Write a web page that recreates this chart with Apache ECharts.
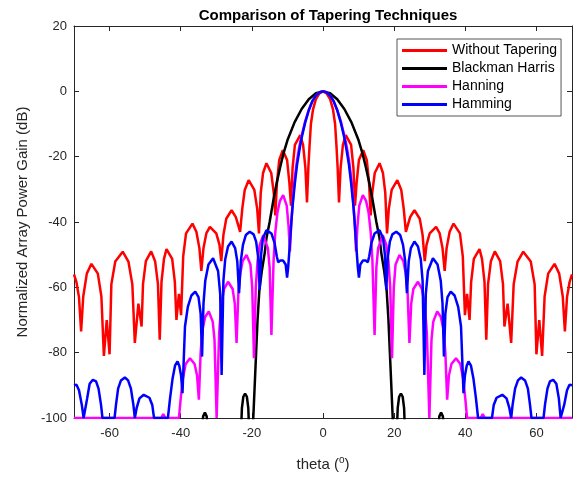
<!DOCTYPE html>
<html>
<head>
<meta charset="utf-8">
<script src="https://cdn.jsdelivr.net/npm/echarts@6/dist/echarts.min.js"></script>
<style>html,body{margin:0;padding:0;background:#fff}#container{width:581px;height:477px}</style>
</head>
<body>
<div id="container"></div>
<script>
// pattern is symmetric: values read for theta >= 0, mirrored for theta < 0
var seriesNames = ['Without Tapering', 'Blackman Harris', 'Hanning', 'Hamming'];
var thetaTicks = [-60, -40, -20, 0, 20, 40, 60];

var uniformHalf = [
  [0,0],[1,-0.6],[2,-2.4],[2.8,-5.5],[3.4,-10],[3.8,-17],[4.1,-23],[4.5,-34],
  [4.95,-23.4],[5.6,-16.4],[6.4,-13.4],[7.9,-16.4],[8.55,-23.4],[9.0,-35],
  [9.45,-28],[10.1,-21],[11.3,-18],[12.3,-21],[12.95,-28],[13.4,-38],
  [13.85,-31],[14.55,-25],[15.9,-22],[16.85,-25],[17.5,-31],[18.0,-43.5],
  [18.5,-36],[19.3,-30.2],[20.9,-27.2],[22.0,-30.2],[22.7,-36],[23.3,-43],
  [23.7,-41.5],[24.5,-38.5],[25.7,-36.4],[27.2,-39],[28.0,-44],[28.6,-52],
  [29.1,-47],[30.0,-43.5],[31.8,-41.5],[32.8,-43.5],[33.6,-48],[34.2,-55],
  [34.75,-48],[35.6,-43],[36.7,-40.5],[38.5,-43.5],[39.3,-50.5],[39.9,-68.5],[40.5,-62],[41.2,-70],
  [41.65,-58.3],[42.4,-51.3],[44.0,-48.3],[44.7,-51.3],[45.4,-58.3],[45.9,-76],
  [46.4,-59],[47.2,-52],[48.3,-49],[49.8,-52],[50.6,-59],[51.0,-72],[51.9,-65],[52.9,-77],
  [53.6,-59.1],[54.7,-52.1],[56.3,-49.1],[58.4,-52.1],[59.5,-59.1],[60.0,-80.5],[60.8,-70],[61.6,-81],
  [62.3,-62.8],[63.3,-55.8],[65.1,-52.8],[66.4,-55.8],[67.4,-62.8],[68.0,-73.5],
  [68.6,-63],[69.3,-58.5],[70,-56]
];

// -106 = below the axis floor (hidden)
var blackmanHalf = [
  [0,0],[2,-0.6],[4,-2.4],[6,-5.4],[8,-9.5],[10,-15],[11.1,-19],[12,-23],[13,-28],
  [13.9,-33],[15,-40],[15.9,-45],[16.4,-49.6],[17.2,-55],[17.9,-61],[18.4,-70],
  [18.8,-80],[19.2,-90],[19.6,-100],[20.0,-106],[20.7,-106],[21.0,-97],[21.4,-93.5],
  [21.9,-92.5],[22.4,-93.5],[22.8,-97],[23.1,-106],[32.3,-106],[32.7,-99.5],
  [33.2,-98.3],[33.7,-99.5],[34.1,-106],[70,-106]
];

var hanningHalf = [
  [0,0],[1,-0.3],[2,-1.3],[3,-3.1],[4,-5.7],[5,-9.2],[6,-13.5],[6.6,-16.5],[7.3,-21],
  [8.0,-27],[8.6,-35],[9.0,-42],[9.3,-49],[9.7,-41],[10.2,-35],[11.2,-31.8],[12.1,-33.5],
  [12.8,-37],[13.4,-43],[13.9,-52],[14.5,-74.6],[15.0,-54],[15.5,-48],[16.8,-44],
  [17.8,-47],[18.4,-52],[18.9,-60],[19.4,-81.7],[19.9,-60],[20.4,-53],[21.5,-50.1],
  [22.6,-52],[23.3,-56],[23.8,-62],[24.3,-77],[24.8,-65],[25.4,-60.5],[26.7,-58.3],
  [27.8,-60.5],[28.6,-65],[29.2,-74],[29.9,-100],[30.5,-76],[31.0,-70.5],[32.1,-67.4],
  [33.1,-69],[33.9,-73],[34.4,-80],[34.9,-94.4],[35.4,-87],[36.1,-83.5],[37.4,-81.7],
  [38.6,-83.5],[39.4,-88],[40.0,-94],[40.5,-100],[44.3,-100],[44.9,-98.8],[45.5,-100],
  [70,-100]
];

var hammingHalf = [
  [0,0],[1,-0.3],[2,-1.3],[3,-3],[4,-5.8],[5,-9.5],[6,-14.2],[6.6,-17.8],[7.3,-22.5],
  [7.9,-28],[8.5,-34.5],[8.9,-40],[9.4,-48],[9.8,-54],[10.1,-57],
  [10.5,-53],[11.2,-51.8],[12.0,-51.8],[12.6,-52.3],[13.0,-50.5],[13.6,-46.5],[14.5,-43.5],
  [15.9,-42.5],[16.9,-45],[17.4,-50],[17.8,-60.8],[18.2,-51],[18.8,-46],[19.5,-43.8],
  [20.6,-43],[21.7,-44],[22.5,-47],[23.1,-52],[23.6,-61.8],[24.1,-52],[24.7,-48],
  [25.7,-46],[26.7,-47.5],[27.5,-51.5],[28.0,-58],[28.5,-86.8],[28.9,-62],[29.5,-55],
  [30.9,-51.1],[32.2,-53],[33.1,-58],[33.6,-65],[34.0,-81.2],[34.4,-68],[35.0,-63],
  [35.9,-61.3],[37.0,-62.5],[38.0,-66],[38.8,-72],[39.5,-92.4],[39.9,-87],[40.4,-84],
  [40.9,-82.7],[41.6,-84],[42.3,-88],[43.0,-94],[43.6,-100],[47.5,-100],[48.0,-96],
  [48.8,-93.8],[50.4,-92.9],[51.6,-94],[52.4,-97],[52.9,-100],[53.3,-96],[54.0,-91],
  [54.8,-88.5],[55.7,-87.6],[56.8,-88.5],[57.6,-91],[58.2,-96],[58.6,-100],[62.0,-100],
  [62.4,-96],[63.1,-91],[63.8,-88.8],[64.7,-88.3],[65.6,-89.5],[66.3,-94],[66.8,-100],
  [67.3,-100],[67.8,-96],[68.6,-91.5],[69.3,-89.8],[70,-90]
];

function mirror(half) {
  var left = half.slice(1).map(function (p) { return [-p[0], p[1]]; }).reverse();
  return left.concat(half);
}

var font = 'Liberation Sans, Arial, Helvetica, sans-serif';
var axisColor = '#262626';

var dom = document.getElementById('container');
var myChart = echarts.init(dom);

var option = {
  animation: false,
  backgroundColor: '#fff',
  color: ['#ff0000', '#000000', '#ff00ff', '#0000ff'],
  title: {
    text: 'Comparison of Tapering Techniques',
    left: 323, top: 3, textAlign: 'center',
    textStyle: {fontSize: 15, fontWeight: 'bold', color: '#000', fontFamily: font}
  },
  grid: {left: 74, right: 9, top: 26, bottom: 58},
  legend: {
    orient: 'vertical', left: 397, top: 39,
    icon: 'rect', itemWidth: 45, itemHeight: 3, itemGap: 3,
    padding: [4, 4, 4, 5],
    borderColor: '#555', borderWidth: 1, backgroundColor: '#fff',
    textStyle: {fontSize: 14, color: '#000', lineHeight: 15, fontFamily: font},
    data: seriesNames
  },
  xAxis: [{
    type: 'value', min: -70, max: 70, position: 'bottom',
    axisLine: {show: true, onZero: false, lineStyle: {color: axisColor}},
    axisTick: {show: true, inside: true, length: 5, customValues: thetaTicks, lineStyle: {color: axisColor}},
    axisLabel: {customValues: thetaTicks, color: axisColor, fontSize: 13, margin: 9, fontFamily: font},
    splitLine: {show: false},
    name: 'theta ({sup|o})', nameLocation: 'middle', nameGap: 37,
    nameTextStyle: {
      fontSize: 15, color: axisColor, fontFamily: font,
      rich: {sup: {fontSize: 10, color: axisColor, fontFamily: font, padding: [0, 0, 9, 0]}}
    }
  }, {
    type: 'value', min: -70, max: 70, position: 'top',
    axisLine: {show: true, onZero: false, lineStyle: {color: axisColor}},
    axisTick: {show: true, inside: true, length: 5, customValues: thetaTicks, lineStyle: {color: axisColor}},
    axisLabel: {show: false},
    splitLine: {show: false}
  }],
  yAxis: [{
    type: 'value', min: -100, max: 20, interval: 20, position: 'left',
    axisLine: {show: true, onZero: false, lineStyle: {color: axisColor}},
    axisTick: {show: true, inside: true, length: 5, lineStyle: {color: axisColor}},
    axisLabel: {color: axisColor, fontSize: 13, margin: 7, fontFamily: font},
    splitLine: {show: false},
    name: 'Normalized Array Power Gain (dB)', nameLocation: 'middle', nameGap: 42,
    nameTextStyle: {fontSize: 15, color: axisColor, fontFamily: font}
  }, {
    type: 'value', min: -100, max: 20, interval: 20, position: 'right',
    axisLine: {show: true, onZero: false, lineStyle: {color: axisColor}},
    axisTick: {show: true, inside: true, length: 5, lineStyle: {color: axisColor}},
    axisLabel: {show: false},
    splitLine: {show: false}
  }],
  series: [
    {name: seriesNames[0], type: 'line', symbol: 'none', clip: true, lineStyle: {width: 2.5}, data: mirror(uniformHalf)},
    {name: seriesNames[1], type: 'line', symbol: 'none', clip: true, lineStyle: {width: 2.5}, data: mirror(blackmanHalf)},
    {name: seriesNames[2], type: 'line', symbol: 'none', clip: true, lineStyle: {width: 2.5}, data: mirror(hanningHalf)},
    {name: seriesNames[3], type: 'line', symbol: 'none', clip: true, lineStyle: {width: 2.5}, data: mirror(hammingHalf)}
  ]
};

myChart.setOption(option);
</script>
</body>
</html>
